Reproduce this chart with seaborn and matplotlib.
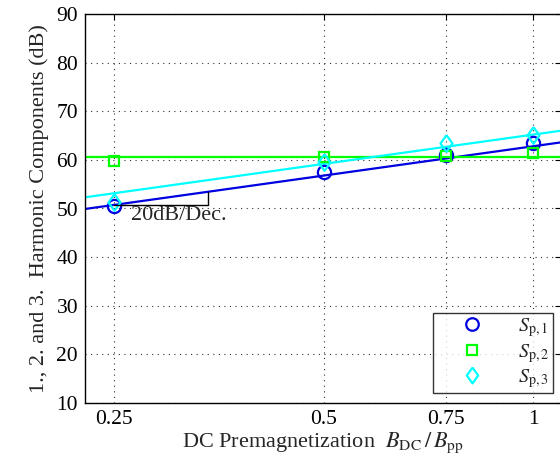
import numpy as np
import pandas as pd
import matplotlib
matplotlib.use("Agg")
import matplotlib.pyplot as plt
from matplotlib.lines import Line2D
from matplotlib.ticker import FixedLocator, NullLocator, FixedFormatter
import seaborn as sns

# ---- data ----
x_vals = [0.25, 0.5, 0.75, 1.0]
s_p1 = [50.6, 57.6, 61.0, 63.4]
s_p2 = [59.8, 60.6, 60.7, 61.5]
s_p3 = [51.3, 59.6, 63.4, 65.1]

fit_x = [0.227, 1.097]
fit_p1 = [49.9, 63.6]
fit_p2 = [60.65, 60.65]
fit_p3 = [52.3, 66.0]

tri_x = [0.25, 0.341, 0.341]
tri_y = [50.74, 50.74, 53.43]

x_ticks = [0.25, 0.5, 0.75, 1.0]
x_ticklabels = ["0.25", "0.5", "0.75", "1"]
y_ticks = [10, 20, 30, 40, 50, 60, 70, 80, 90]
series_labels = [r"$S_{\mathrm{p},1}$", r"$S_{\mathrm{p},2}$", r"$S_{\mathrm{p},3}$"]

# ---- style ----
sns.set_style("white")
plt.rcParams["font.family"] = ["Liberation Serif", "DejaVu Serif"]
plt.rcParams["mathtext.fontset"] = "stix"
plt.rcParams["font.size"] = 15

blue = "#0000e0"
green = "#00ff00"
cyan = "#00ffff"

diamond = [(0, 1), (0.72, 0), (0, -1), (-0.72, 0), (0, 1)]

fig = plt.figure(figsize=(5.6, 4.66), dpi=100)
W, H = 560, 466
ax = fig.add_axes([85 / W, 1 - 403 / H, (561 - 85) / W, 389 / H])

# fit lines
df_fit = pd.DataFrame({"x": fit_x, "p1": fit_p1, "p2": fit_p2, "p3": fit_p3})
sns.lineplot(data=df_fit, x="x", y="p1", ax=ax, color=blue, lw=1.6)
sns.lineplot(data=df_fit, x="x", y="p2", ax=ax, color=green, lw=1.6)
sns.lineplot(data=df_fit, x="x", y="p3", ax=ax, color=cyan, lw=1.6)

# measured points
df = pd.DataFrame({"x": x_vals, "p1": s_p1, "p2": s_p2, "p3": s_p3})
specs = [("p1", "o", blue, 9.5), ("p2", "s", green, 7.5), ("p3", diamond, cyan, 12)]
for col, mk, c, ms in specs:
    sns.lineplot(data=df, x="x", y=col, ax=ax, linestyle="", marker=mk,
                 markersize=ms, markerfacecolor="none", markeredgecolor=c,
                 markeredgewidth=1.6, color=c)

# slope triangle
ax.plot(tri_x, tri_y, color="black", lw=1.0)
ax.text(0.2645, 48.6, "20dB/Dec.", fontsize=16, va="center", ha="left")

ax.set_xscale("log")
ax.set_xlim(0.227, 1.097)
ax.set_ylim(10, 90)
ax.xaxis.set_major_locator(FixedLocator(x_ticks))
ax.xaxis.set_major_formatter(FixedFormatter(x_ticklabels))
ax.xaxis.set_minor_locator(NullLocator())
ax.set_yticks(y_ticks)

ax.grid(True, which="major", color="#303030", linestyle=(0, (1, 4)), lw=0.8)
ax.tick_params(direction="in", top=True, right=True, length=4, width=0.8,
               labelsize=15.5, colors="black", pad=5)
for sp in ax.spines.values():
    sp.set_color("black")
    sp.set_linewidth(1.0)

ax.set_xlabel(r"DC Premagnetization  $B_{\mathrm{DC}}\,/\,B_{\mathrm{pp}}$", fontsize=16, labelpad=1)
ax.set_ylabel("1., 2. and 3.  Harmonic Components (dB)", fontsize=16, labelpad=5)

handles = [Line2D([], [], linestyle="", marker=mk, markersize=ms * 0.95,
                  markerfacecolor="none", markeredgecolor=c, markeredgewidth=1.6)
           for _, mk, c, ms in specs]
leg = ax.legend(handles, series_labels, loc="lower right",
                bbox_to_anchor=(0.983, 0.026), borderaxespad=0,
                frameon=True, fancybox=False, edgecolor="black",
                fontsize=14.5, labelspacing=0.12, handletextpad=0.5,
                borderpad=0.15, handlelength=3.6)
leg.get_frame().set_linewidth(1.0)

fig.savefig("out.png", dpi=100)
